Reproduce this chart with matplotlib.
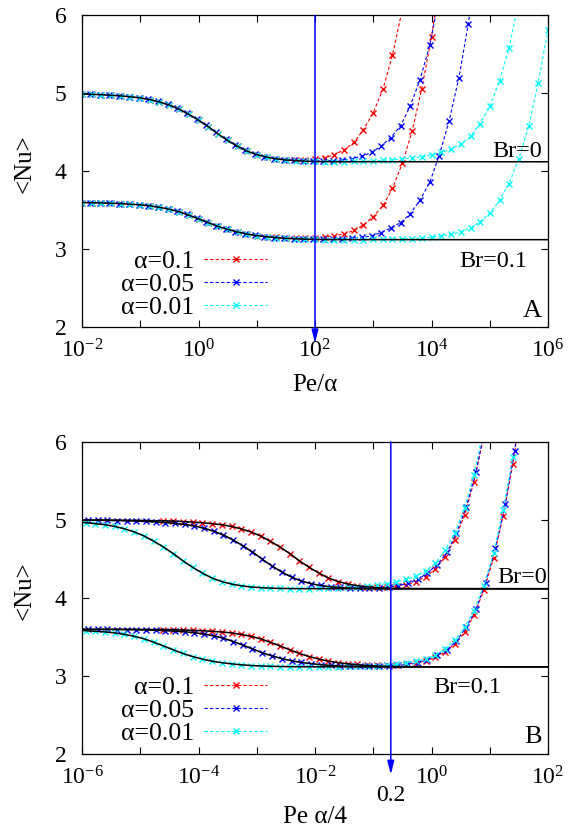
import numpy as np
import matplotlib
matplotlib.use('Agg')
import matplotlib.pyplot as plt
from matplotlib.ticker import NullLocator

plt.rcParams['font.family'] = ['Liberation Serif', 'DejaVu Serif']
plt.rcParams['mathtext.fontset'] = 'custom'
plt.rcParams['mathtext.rm'] = 'Liberation Serif'

# log10(Pe) grid shared by all runs (six points per decade)
log_pe = [-4.17, -4.0, -3.83, -3.67, -3.5, -3.33, -3.17, -3.0, -2.83, -2.67,
          -2.5, -2.33, -2.17, -2.0, -1.83, -1.67, -1.5, -1.33, -1.17, -1.0,
          -0.83, -0.67, -0.5, -0.33, -0.17, 0.0, 0.17, 0.33, 0.5, 0.67,
          0.83, 1.0, 1.17, 1.33, 1.5, 1.67, 1.83, 2.0, 2.17, 2.33,
          2.5, 2.67, 2.83, 3.0, 3.17, 3.33, 3.5, 3.67, 3.83, 4.0]

alphas = [0.1, 0.05, 0.01]
labels = ['α=0.1', 'α=0.05', 'α=0.01']
colors = ['#ff0000', '#0000ff', '#00ffff']
first_pe = [7, 0, 1]   # index in log_pe of the first point of each run

# <Nu> for Br=0
nu_br0_a1 = [4.990, 4.986, 4.981, 4.975, 4.966, 4.955, 4.940, 4.918, 4.888, 4.848,
             4.795, 4.730, 4.655, 4.570, 4.480, 4.395, 4.320, 4.258, 4.212, 4.180,
             4.160, 4.148, 4.145, 4.148, 4.156, 4.172, 4.21, 4.275, 4.37, 4.53,
             4.75, 5.06, 5.49, 6.08]
nu_br0_a05 = [4.999, 4.998, 4.997, 4.995, 4.993, 4.991, 4.987, 4.982, 4.976, 4.968,
              4.957, 4.943, 4.922, 4.894, 4.856, 4.805, 4.742, 4.669, 4.586, 4.497,
              4.411, 4.334, 4.270, 4.221, 4.186, 4.162, 4.148, 4.139, 4.134, 4.131,
              4.132, 4.136, 4.143, 4.161, 4.189, 4.24, 4.32, 4.43, 4.585, 4.83,
              5.17, 5.62, 6.22]
nu_br0_a01 = [4.990, 4.986, 4.981, 4.975, 4.966, 4.955, 4.940, 4.918, 4.888, 4.848,
              4.795, 4.730, 4.655, 4.570, 4.480, 4.395, 4.320, 4.258, 4.212, 4.180,
              4.158, 4.143, 4.134, 4.128, 4.124, 4.123, 4.123, 4.123, 4.125, 4.128,
              4.132, 4.138, 4.146, 4.157, 4.170, 4.185, 4.21, 4.24, 4.28, 4.345,
              4.445, 4.61, 4.83, 5.16, 5.58, 6.18]

# <Nu> for Br=0.1
nu_br01_a1 = [3.597, 3.595, 3.592, 3.588, 3.583, 3.576, 3.567, 3.554, 3.536, 3.511,
              3.478, 3.436, 3.388, 3.338, 3.292, 3.252, 3.219, 3.193, 3.173, 3.158,
              3.150, 3.143, 3.140, 3.141, 3.146, 3.155, 3.171, 3.195, 3.24, 3.31,
              3.415, 3.56, 3.78, 4.10, 4.52, 5.05, 5.72, 6.6]
nu_br01_a05 = [3.600, 3.600, 3.600, 3.599, 3.598, 3.597, 3.595, 3.593, 3.589, 3.584,
               3.577, 3.569, 3.556, 3.539, 3.516, 3.484, 3.444, 3.397, 3.348, 3.301,
               3.260, 3.225, 3.198, 3.177, 3.161, 3.148, 3.139, 3.134, 3.131, 3.129,
               3.128, 3.130, 3.133, 3.140, 3.150, 3.170, 3.21, 3.27, 3.34, 3.45,
               3.625, 3.86, 4.20, 4.64, 5.20, 5.89, 6.8]
nu_br01_a01 = [3.597, 3.595, 3.592, 3.588, 3.583, 3.576, 3.567, 3.554, 3.536, 3.511,
               3.478, 3.436, 3.388, 3.338, 3.292, 3.252, 3.219, 3.193, 3.173, 3.158,
               3.146, 3.137, 3.131, 3.127, 3.124, 3.122, 3.121, 3.121, 3.121, 3.122,
               3.123, 3.125, 3.127, 3.130, 3.134, 3.14, 3.15, 3.17, 3.19, 3.22,
               3.27, 3.35, 3.46, 3.625, 3.84, 4.16, 4.58, 5.13, 5.81]

# limiting curves (no dissipation growth), as a function of log10(Pe/alpha)
lim_log_x = [-3.5, -3.0, -2.5, -2.0, -1.67, -1.33, -1.0, -0.83, -0.67, -0.5,
             -0.33, -0.17, 0.0, 0.17, 0.33, 0.5, 0.67, 0.83, 1.0, 1.17,
             1.33, 1.5, 1.67, 1.83, 2.0, 2.33, 7.0]
lim_br0 = [5.000, 5.000, 4.997, 4.990, 4.981, 4.966, 4.940, 4.918, 4.888, 4.848,
           4.795, 4.730, 4.655, 4.570, 4.480, 4.395, 4.320, 4.258, 4.212, 4.180,
           4.158, 4.143, 4.134, 4.128, 4.124, 4.121, 4.12]
lim_br01 = [3.600, 3.600, 3.600, 3.597, 3.592, 3.583, 3.567, 3.554, 3.536, 3.511,
            3.478, 3.436, 3.388, 3.338, 3.292, 3.252, 3.219, 3.193, 3.173, 3.158,
            3.146, 3.137, 3.131, 3.127, 3.124, 3.121, 3.12]

nu_br0 = [nu_br0_a1, nu_br0_a05, nu_br0_a01]
nu_br01 = [nu_br01_a1, nu_br01_a05, nu_br01_a01]

TICK_FS = 17
TEXT_FS = 17.5
LEG_FS = 18.5
BLUE = '#0000ff'


def top_x(pe, a):
    return pe / a


def bottom_x(pe, a):
    return pe * a / 4


def draw_panel(ax, to_x, one_limit):
    handles = []
    for a, c, lab, i0, n0, n1 in zip(alphas, colors, labels, first_pe, nu_br0, nu_br01):
        for nu in (n1, n0):
            pe = 10.0 ** np.array(log_pe[i0:i0 + len(nu)])
            line, = ax.plot(to_x(pe, a), nu, color=c, ls=(0, (3, 2)), lw=0.8,
                            marker='x', ms=5, mew=1.0, label=lab, zorder=2)
        handles.append(line)
    for a in (alphas[:1] if one_limit else alphas):
        pe = 10.0 ** np.array(lim_log_x) * a
        for lim in (lim_br0, lim_br01):
            ax.plot(to_x(pe, a), lim, color='black', lw=1.1, zorder=3)
    return handles


def style_axes(ax, lo, hi):
    ax.set_xscale('log')
    ax.set_xlim(10.0 ** lo, 10.0 ** hi)
    ax.set_ylim(2, 6)
    exps = list(range(lo, hi + 1))
    ax.set_xticks([10.0 ** k for k in exps])
    ax.set_xticklabels([r'$\mathregular{10^{%d}}$' % k if (k - lo) % 2 == 0 else ''
                        for k in exps])
    ax.xaxis.set_minor_locator(NullLocator())
    ax.set_yticks([2, 3, 4, 5, 6])
    ax.tick_params(direction='in', top=True, right=True, length=5, width=0.8,
                   labelsize=TICK_FS)
    ax.tick_params(axis='x', pad=9)
    ax.tick_params(axis='y', pad=11)
    for s in ax.spines.values():
        s.set_linewidth(0.9)
    ax.set_ylabel('<Nu>', fontsize=18, va='center')
    ax.yaxis.set_label_coords(-0.122, 0.523)


def legend(ax, handles, y):
    ax.legend(handles=handles, loc='center right', bbox_to_anchor=(0.397, y),
              frameon=False, markerfirst=False, handlelength=2.45,
              handletextpad=0.38, labelspacing=0.0, borderpad=0,
              borderaxespad=0, fontsize=LEG_FS, numpoints=1)


def main():
    fig = plt.figure(figsize=(5.82, 8.32), dpi=100)
    ax1 = fig.add_axes([0.1409, 0.6070, 0.8007, 0.3746])
    ax2 = fig.add_axes([0.1409, 0.0934, 0.8007, 0.3754])

    # panel A: against Pe/alpha
    h = draw_panel(ax1, top_x, True)
    style_axes(ax1, -2, 6)
    legend(ax1, h, 0.135)
    ax1.set_xlabel('Pe/α', fontsize=18, va='center')
    ax1.xaxis.set_label_coords(0.5, -0.186)
    ax1.text(10 ** 5.9, 4.18, 'Br=0', fontsize=TEXT_FS, ha='right', va='baseline')
    ax1.text(10 ** 5.64, 2.77, 'Br=0.1', fontsize=TEXT_FS, ha='right', va='baseline')
    ax1.text(10 ** 5.9, 2.13, 'A', fontsize=19, ha='right', va='baseline')
    ax1.annotate('', xy=(1e2, 1.79), xytext=(1e2, 6.0), annotation_clip=False,
                 arrowprops=dict(arrowstyle='-|>,head_length=0.8,head_width=0.2',
                                 color=BLUE, lw=1.1, shrinkA=0, shrinkB=0), zorder=5)

    # panel B: against Pe*alpha/4
    h = draw_panel(ax2, bottom_x, False)
    style_axes(ax2, -6, 2)
    legend(ax2, h, 0.1396)
    ax2.set_xlabel('Pe α/4', fontsize=18, va='center')
    ax2.xaxis.set_label_coords(0.5, -0.2008)
    ax2.text(10 ** 1.98, 4.195, 'Br=0', fontsize=TEXT_FS, ha='right', va='baseline')
    ax2.text(10 ** 1.19, 2.79, 'Br=0.1', fontsize=TEXT_FS, ha='right', va='baseline')
    ax2.text(10 ** 1.9, 2.146, 'B', fontsize=19, ha='right', va='baseline')
    ax2.annotate('', xy=(0.2, 1.74), xytext=(0.2, 6.0), annotation_clip=False,
                 arrowprops=dict(arrowstyle='-|>,head_length=0.8,head_width=0.2',
                                 color=BLUE, lw=1.1, shrinkA=0, shrinkB=0), zorder=5)
    ax2.text(0.2, 1.47, '0.2', fontsize=TICK_FS, ha='center', va='center', clip_on=False)

    fig.savefig('out.png', dpi=100)


if __name__ == "__main__":
    main()
